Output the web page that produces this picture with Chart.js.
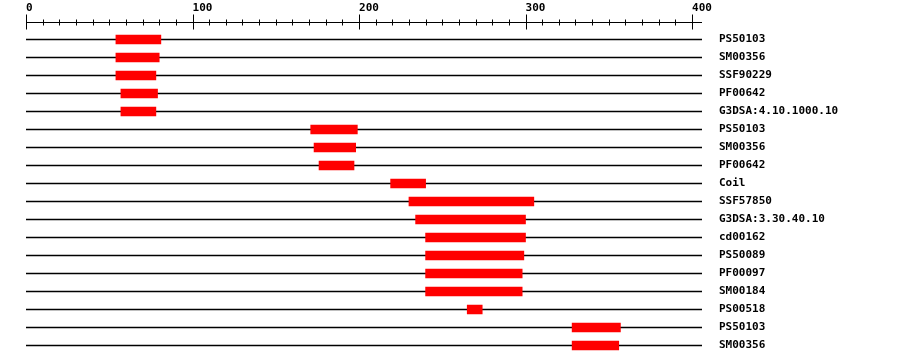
<!DOCTYPE html>
<html>
<head>
<meta charset="utf-8">
<script src="https://cdn.jsdelivr.net/npm/chart.js@4/dist/chart.umd.min.js"></script>
<style>
  html, body { margin: 0; padding: 0; background: #ffffff; }
  #wrap { width: 900px; height: 364px; position: relative; }
</style>
</head>
<body>
<div id="wrap"><canvas id="c" width="900" height="364"></canvas></div>
<script>
// ---- data ----
const categories = ["PS50103","SM00356","SSF90229","PF00642","G3DSA:4.10.1000.10",
  "PS50103","SM00356","PF00642","Coil","SSF57850","G3DSA:3.30.40.10","cd00162",
  "PS50089","PF00097","SM00184","PS00518","PS50103","SM00356"];
const featureStart = [54,54,54,57,57,171,173,176,219,230,234,240,240,240,240,265,328,328];
const featureEnd   = [81,80,78,79,78,199,198,197,240,305,300,300,299,298,298,274,357,356];
const sequenceLength = 406;
const majorTickLabels = ["0","100","200","300","400"];
const majorTickValues = [0,100,200,300,400];
const minorTickStep = 10;

const featureBars = categories.map((c,i) => [featureStart[i], featureEnd[i]]);
const backboneBars = categories.map(() => [0, sequenceLength]);
const tickValues = [];
for (let v = majorTickValues[0]; v <= majorTickValues[majorTickValues.length-1]; v += minorTickStep) tickValues.push(v);

const FONT = { family: "'DejaVu Sans Mono', monospace", size: 11, weight: 'bold' };

const axisPlugin = {
  id: 'rulerAxis',
  afterDraw(chart) {
    const x = chart.scales.x;
    const ctx = chart.ctx;
    const y = Math.floor(chart.chartArea.top - 8) + 0.5;
    ctx.save();
    ctx.strokeStyle = '#000';
    ctx.lineWidth = 1;
    ctx.beginPath();
    ctx.moveTo(x.getPixelForValue(0), y);
    ctx.lineTo(x.getPixelForValue(sequenceLength), y);
    tickValues.forEach(v => {
      const px = Math.round(x.getPixelForValue(v)) + 0.5;
      const major = majorTickValues.includes(v);
      const up = major ? 8 : 3, down = major ? 7 : 3;
      ctx.moveTo(px, y - up);
      ctx.lineTo(px, y + down);
    });
    ctx.stroke();
    ctx.restore();
  }
};

new Chart(document.getElementById('c'), {
  type: 'bar',
  data: {
    labels: categories,
    datasets: [
      { data: featureBars, backgroundColor: '#ff0000', borderWidth: 0, barThickness: 9, grouped: false, borderSkipped: false },
      { data: backboneBars, backgroundColor: '#000000', borderWidth: 0, barThickness: 1, grouped: false, borderSkipped: false }
    ]
  },
  options: {
    indexAxis: 'y',
    responsive: false,
    animation: false,
    devicePixelRatio: 1,
    layout: { padding: { left: 26, right: 0, top: 0, bottom: 9.5 } },
    plugins: { legend: { display: false }, tooltip: { enabled: false } },
    scales: {
      x: {
        type: 'linear',
        position: 'top',
        min: 0,
        max: sequenceLength,
        afterBuildTicks: (s) => { s.ticks = tickValues.map(v => ({ value: v })); },
        afterFit: (s) => { s.height = 30.5; s.paddingLeft = 0; s.paddingRight = 0; },
        grid: { display: false },
        border: { display: false },
        ticks: {
          autoSkip: false,
          maxRotation: 0,
          align: 'start',
          padding: 7.5,
          color: '#000',
          font: FONT,
          callback: (v) => { const i = majorTickValues.indexOf(v); return i >= 0 ? majorTickLabels[i] : ''; }
        }
      },
      y: {
        type: 'category',
        position: 'right',
        afterFit: (s) => { s.width = 198; s.paddingTop = 0; s.paddingBottom = 0; },
        grid: { display: false, drawTicks: false },
        border: { display: false },
        ticks: { padding: 17, color: '#000', font: FONT, autoSkip: false }
      }
    }
  },
  plugins: [axisPlugin]
});
</script>
</body>
</html>
